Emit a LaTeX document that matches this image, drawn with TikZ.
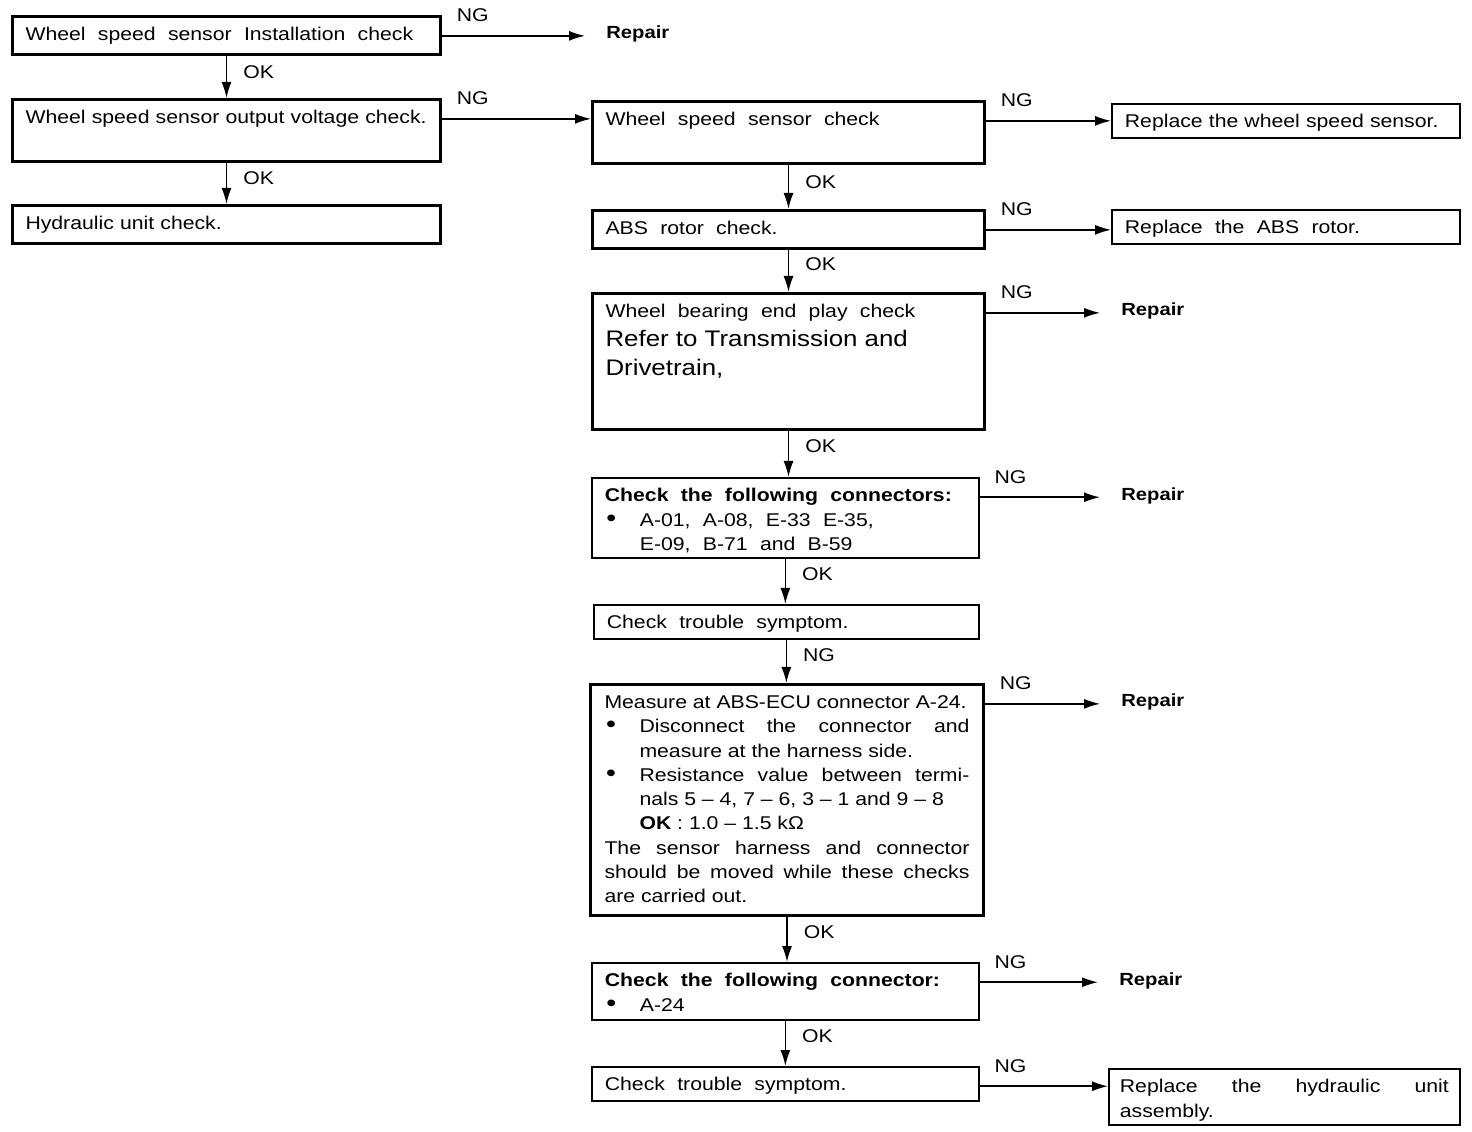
\documentclass[tikz,border=0pt]{standalone}
\usepackage{fontspec}
\setmainfont{Liberation Sans}[FakeStretch=1.15]
\usetikzlibrary{arrows.meta, calc}

\newcommand{\dotmark}{\makebox[7mm][l]{\hspace{0.3mm}{\fontsize{14}{14}\selectfont\textbullet}}}

\begin{document}
\begin{tikzpicture}[x=0.2mm, y=-0.2mm,
    font=\fontsize{10.5}{13.8}\selectfont,
    stepbox/.style={draw, line width=0.6mm, anchor=north west, align=left, inner xsep=2.6mm, inner ysep=0pt, text height=4.8mm},
    litebox/.style={stepbox, line width=0.35mm},
    wide/.style={execute at begin node={\spaceskip=7pt plus 1pt}},
    arr/.style={line width=0.3mm, -{Latex[length=3.2mm, width=2mm]}},
    oklbl/.style={anchor=west, inner sep=0pt, xshift=3.2mm},
    nglbl/.style={anchor=south west, inner sep=0pt, xshift=2.8mm, yshift=2.6mm},
    fix/.style={anchor=west, inner ysep=0pt, inner xsep=4.2mm, font=\bfseries}
  ]
    \useasboundingbox (0,0) rectangle (1472,1132);

    % left column
    \node[stepbox, wide, text width=80.4mm, text depth=2.8mm] (b1) at (11,15) {Wheel speed sensor Installation check};
    \node[stepbox, text width=80.4mm, text depth=7.6mm] (b2) at (11,98) {Wheel speed sensor output voltage check.};
    \node[stepbox, text width=80.4mm, text depth=2.8mm] (b3) at (11,204) {Hydraulic unit check.};

    % right column
    \node[stepbox, wide, text width=73.2mm, text depth=7.6mm] (b4) at (591,100) {Wheel speed sensor check};
    \node[stepbox, wide, text width=73.2mm, text depth=2.8mm] (b5) at (591,209) {ABS rotor check.};
    \node[stepbox, wide, text width=73.2mm, text depth=22.4mm] (b6) at (591,292) {Wheel bearing end play check\par
      \fontsize{12.8}{16.4}\selectfont\spaceskip=0pt Refer to Transmission and\newline Drivetrain,\par};
    \node[litebox, wide, align=justify, text width=72.2mm, text depth=11.2mm] (b7) at (591,477) {\textbf{Check the following connectors:}\par
      \hangindent=7mm\hangafter=1\noindent\dotmark A-01, A-08, E-33 E-35,\newline E-09, B-71 and B-59\par};
    \node[litebox, wide, text width=71.8mm, text depth=2mm] (b8) at (593,604) {Check trouble symptom.};
    \node[stepbox, align=justify, inner xsep=2.8mm, text width=73mm, text depth=41.4mm] (b9) at (589,683) {Measure at ABS-ECU connector A-24.\par
      \hangindent=7mm\hangafter=1\noindent\dotmark Disconnect the connector and\linebreak measure at the harness side.\par
      \hangindent=7mm\hangafter=1\noindent\dotmark Resistance value between termi-\linebreak nals 5~–~4, 7~–~6, 3~–~1 and 9~–~8\newline \textbf{OK} : 1.0~–~1.5 kΩ\par
      The sensor harness and connector\linebreak should be moved while these checks\linebreak are carried out.\par};
    \node[litebox, wide, align=justify, text width=72.2mm, text depth=6.6mm] (b10) at (591,962) {\textbf{Check the following connector:}\par
      \noindent\dotmark A-24\par};
    \node[litebox, wide, text width=72.2mm, text depth=2mm] (b11) at (591,1066) {Check trouble symptom.};

    % results
    \node[litebox, text width=64.4mm, text depth=2mm] (r1) at (1111,103) {Replace the wheel speed sensor.};
    \node[litebox, wide, text width=64.4mm, text depth=2mm] (r2) at (1111,209) {Replace the ABS rotor.};
    \node[litebox, align=justify, inner xsep=2.2mm, text width=65.8mm, text depth=6.4mm] (r3) at (1108,1068) {Replace the hydraulic unit\linebreak assembly.\par};
    \foreach \n/\x/\y in {rep1/585/34, rep2/1100/311, rep3/1100/496, rep4/1100/702, rep5/1098/981}
      \node[fix] (\n) at (\x,\y) {Repair};

    % OK paths
    \draw[arr] (b1.south) -- node[oklbl, pos=0.38] {OK} (b1.south |- b2.north);
    \draw[arr] (b2.south) -- node[oklbl, pos=0.38] {OK} (b2.south |- b3.north);
    \draw[arr] (b4.south) -- node[oklbl, pos=0.38] {OK} (b4.south |- b5.north);
    \draw[arr] (b5.south) -- node[oklbl, pos=0.34] {OK} (b5.south |- b6.north);
    \draw[arr] (b6.south) -- node[oklbl, pos=0.34] {OK} (b6.south |- b7.north);
    \draw[arr] (b7.south) -- node[oklbl, pos=0.34] {OK} (b7.south |- b8.north);
    \draw[arr] (b8.south) -- node[oklbl, pos=0.36] {NG} (b8.south |- b9.north);
    \draw[arr] (b9.south) -- node[oklbl, pos=0.34] {OK} (b9.south |- b10.north);
    \draw[arr] (b10.south) -- node[oklbl, pos=0.34] {OK} (b10.south |- b11.north);

    % NG paths
    \draw[arr] (b1.mid east) -- node[nglbl, pos=0] {NG} (b1.mid east -| rep1.west);
    \draw[arr] (b2.mid east) -- node[nglbl, pos=0] {NG} (b2.mid east -| b4.west);
    \draw[arr] (b4.mid east) -- node[nglbl, pos=0] {NG} (b4.mid east -| r1.west);
    \draw[arr] (b5.mid east) -- node[nglbl, pos=0] {NG} (b5.mid east -| r2.west);
    \draw[arr] (b6.mid east) -- node[nglbl, pos=0] {NG} (b6.mid east -| rep2.west);
    \draw[arr] (b7.mid east) -- node[nglbl, pos=0] {NG} (b7.mid east -| rep3.west);
    \draw[arr] (b9.mid east) -- node[nglbl, pos=0] {NG} (b9.mid east -| rep4.west);
    \draw[arr] (b10.mid east) -- node[nglbl, pos=0] {NG} (b10.mid east -| rep5.west);
    \draw[arr] (b11.mid east) -- node[nglbl, pos=0] {NG} (b11.mid east -| r3.west);
  \end{tikzpicture}
\end{document}
